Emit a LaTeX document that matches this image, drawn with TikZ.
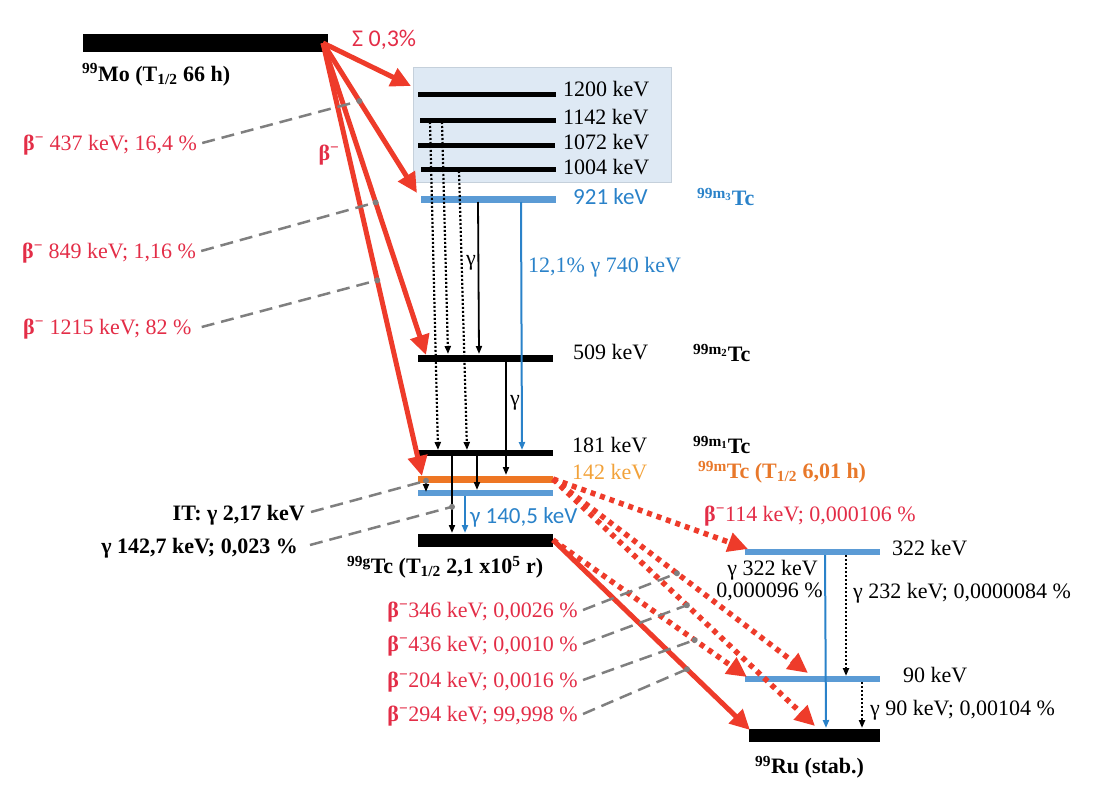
\documentclass[tikz,border=0pt]{standalone}
\usepackage{fontspec}
\setmainfont{Liberation Serif}
\newfontfamily\carl{Carlito}
\usetikzlibrary{arrows.meta}
\definecolor{redA}{HTML}{EE3B2A}
\definecolor{redT}{HTML}{E32D47}
\definecolor{blueL}{HTML}{5B9BD5}
\definecolor{blueT}{HTML}{2A82C9}
\definecolor{oraL}{HTML}{EE7623}
\definecolor{oraT}{HTML}{F2A23A}
\definecolor{oraB}{HTML}{E8782A}
\definecolor{grayc}{HTML}{7F7F7F}
\definecolor{boxF}{HTML}{DEE9F4}
\definecolor{boxD}{HTML}{C5D0DB}
\newcommand{\betam}{\textbf{β}\textsuperscript{\textbf{−}}}
\tikzset{
  lab/.style={inner sep=0pt, anchor=west},
  labr/.style={inner sep=0pt, anchor=east},
  lvk/.style={line width=5pt, black},
  redarr/.style={draw=redA, line width=5pt, -{Triangle[length=20pt,width=19pt]}},
  reddot/.style={draw=redA, line width=5.5pt, dash pattern=on 5pt off 5pt, -{Triangle[length=20pt,width=19pt]}},
  karr/.style={draw=black, line width=1.8pt, -{Triangle[length=8pt,width=6pt]}},
  kdot/.style={draw=black, line width=2.2pt, dash pattern=on 2pt off 2pt, -{Triangle[length=8pt,width=6pt]}},
  barr/.style={draw=blueT, line width=2pt, -{Triangle[length=8pt,width=6pt]}},
  lead/.style={draw=grayc, line width=2.5pt, dash pattern=on 13pt off 7pt},
  dotm/.style={circle, fill=grayc, inner sep=0pt, minimum size=6pt},
}
\begin{document}
\begin{tikzpicture}[x=1pt,y=-1pt, font=\fontsize{22}{26}\selectfont]
\useasboundingbox (0,0) rectangle (1107,800);

% box of high levels
\draw[fill=boxF, draw=boxD, line width=1pt] (413,67) rectangle (671,182);

% ---- level coordinates ----
\coordinate (moL) at (83,43);   \coordinate (moR) at (328,43);
\coordinate (a1L) at (418,94);  \coordinate (a1R) at (556,94);
\coordinate (a2L) at (420,120); \coordinate (a2R) at (556,120);
\coordinate (a3L) at (418,145); \coordinate (a3R) at (555,145);
\coordinate (a4L) at (421,169); \coordinate (a4R) at (556,169);
\coordinate (m3L) at (421,199); \coordinate (m3R) at (556,199);
\coordinate (m2L) at (418,358); \coordinate (m2R) at (553,358);
\coordinate (m1L) at (418,453); \coordinate (m1R) at (553,453);
\coordinate (mL) at (418,479);  \coordinate (mR) at (553,479);
\coordinate (bL) at (418,493);  \coordinate (bR) at (553,493);
\coordinate (gL) at (418,540);  \coordinate (gR) at (553,540);
\coordinate (r3L) at (745,552); \coordinate (r3R) at (880,552);
\coordinate (r9L) at (745,679); \coordinate (r9R) at (880,679);
\coordinate (ruL) at (749,735); \coordinate (ruR) at (880,735);

% ---- levels ----
\draw[line width=18pt] (moL) -- (moR);
\draw[lvk] (a1L) -- (a1R);
\draw[lvk] (a2L) -- (a2R);
\draw[lvk] (a3L) -- (a3R);
\draw[lvk] (a4L) -- (a4R);
\draw[line width=7pt, blueL] (m3L) -- (m3R);
\draw[line width=7pt] (m2L) -- (m2R);
\draw[line width=6pt] (m1L) -- (m1R);
\draw[line width=7pt, oraL] (mL) -- (mR);
\draw[line width=6pt, blueL] (bL) -- (bR);
\draw[line width=13pt] (gL) -- (gR);
\draw[line width=6pt, blueL] (r3L) -- (r3R);
\draw[line width=6pt, blueL] (r9L) -- (r9R);
\draw[line width=13pt] (ruL) -- (ruR);

% ---- gamma transition coordinates ----
\coordinate (dAs) at (430,122); \coordinate (dAe) at (438,450);
\coordinate (dBs) at (442,122); \coordinate (dBe) at (448,354);
\coordinate (dCs) at (459,171); \coordinate (dCe) at (467,450);
\coordinate (g1s) at (478,202); \coordinate (g1e) at (479,354);
\coordinate (b7s) at (521,202); \coordinate (b7e) at (522,450);
\coordinate (g2s) at (506,361); \coordinate (g2e) at (506,475);
\coordinate (k1s) at (452,456); \coordinate (k1e) at (452,533);
\coordinate (k2s) at (477,456); \coordinate (k2e) at (477,490);
\coordinate (its) at (426,478); \coordinate (ite) at (426,492);
\coordinate (b1s) at (465,496); \coordinate (b1e) at (465,533);
\coordinate (c3s) at (825,555); \coordinate (c3e) at (826,728);
\coordinate (c2s) at (846,555); \coordinate (c2e) at (846,676);
\coordinate (c9s) at (862,682); \coordinate (c9e) at (862,728);

\draw[kdot] (dAs) -- (dAe);
\draw[kdot] (dBs) -- (dBe);
\draw[kdot] (dCs) -- (dCe);
\draw[karr] (g1s) -- (g1e);
\draw[barr] (b7s) -- (b7e);
\draw[karr] (g2s) -- (g2e);
\draw[karr] (k1s) -- coordinate[pos=0.66] (pk1) (k1e);
\draw[karr] (k2s) -- (k2e);
\draw[karr] (its) -- coordinate[pos=0.2] (pit) (ite);
\draw[barr] (b1s) -- (b1e);
\draw[barr] (c3s) -- (c3e);
\draw[kdot] (c2s) -- (c2e);
\draw[kdot] (c9s) -- (c9e);

% ---- beta decays of Mo ----
\coordinate (apex) at (323,43);
\coordinate (tBox) at (411,86);
\coordinate (t921) at (417,193);
\coordinate (t509) at (426,355);
\coordinate (t142) at (422,476);
\draw[redarr] (apex) -- (tBox);
\draw[redarr] (apex) -- coordinate[pos=0.387] (p437) (t921);
\draw[redarr] (apex) -- coordinate[pos=0.511] (p849) (t509);
\draw[redarr] (apex) -- coordinate[pos=0.548] (p1215) (t142);

% ---- beta decays of Tc ----
\coordinate (mEnd) at (553,479);
\coordinate (gEnd) at (553,540);
\coordinate (u322) at (748,549);
\coordinate (u90a) at (808,673);
\coordinate (uRua) at (815,726);
\coordinate (u90b) at (747,677);
\coordinate (uRub) at (750,730);
\draw[reddot] (mEnd) -- (u322);
\draw[reddot] (mEnd) -- coordinate[pos=0.486] (p346) (u90a);
\draw[reddot] (mEnd) -- coordinate[pos=0.511] (p436) (uRua);
\draw[reddot] (gEnd) -- coordinate[pos=0.73] (p204) (u90b);
\draw[redarr] (gEnd) -- coordinate[pos=0.68] (p294) (uRub);

% ---- texts ----
\node[lab, text=redT] (sig) at (352,40) {\carl\fontsize{24}{28}\selectfont Σ 0,3\%};
\node[lab] (mo) at (82,75) {\textbf{\textsuperscript{99}Mo (T\textsubscript{1/2} 66 h)}};
\node[text=redT, inner sep=0pt] (bmain) at (329,155) {\betam};
\node[lab, text=redT] (l437) at (23,145) {\betam{} 437 keV; 16,4 \%};
\node[lab, text=redT] (l849) at (22,253) {\betam{} 849 keV; 1,16 \%};
\node[lab, text=redT] (l1215) at (23,329) {\betam{} 1215 keV; 82 \%};

\node[lab] (e1200) at (563,89) {1200 keV};
\node[lab] (e1142) at (563,117) {1142 keV};
\node[lab] (e1072) at (563,142) {1072 keV};
\node[lab] (e1004) at (563,167) {1004 keV};
\node[lab, text=blueT] (e921) at (573,197) {\carl\fontsize{23}{27}\selectfont 921 keV};
\node[lab, text=blueT] (n921) at (697,197) {\textbf{\textsuperscript{99m\textsubscript{3}}Tc}};
\node[lab, text=blueT] (t740) at (528,267) {12,1\% γ 740 keV};
\node[inner sep=0pt] (gam1) at (471,263) {γ};
\node[inner sep=0pt] (gam2) at (515,403) {γ};
\node[lab] (e509) at (573,352) {509 keV};
\node[lab] (n509) at (693,353) {\textbf{\textsuperscript{99m\textsubscript{2}}Tc}};
\node[lab] (e181) at (572,445) {181 keV};
\node[lab] (n181) at (693,445) {\textbf{\textsuperscript{99m\textsubscript{1}}Tc}};
\node[lab, text=oraT] (e142) at (572,472) {142 keV};
\node[lab, text=oraB] (n142) at (698,472) {\textbf{\textsuperscript{99m}Tc (T\textsubscript{1/2} 6,01 h)}};
\node[lab, text=blueT] (g1405) at (470,517) {\carl\fontsize{23}{27}\selectfont γ 140,5 keV};
\node[labr] (itl) at (305,515) {\textbf{IT: γ 2,17 keV}};
\node[labr] (g1427) at (298,548) {\textbf{γ 142,7 keV; 0,023 \%}};
\node[lab] (ngs) at (347,567) {\textbf{\textsuperscript{99g}Tc (T\textsubscript{1/2} 2,1 x10\textsuperscript{5} r)}};

\node[lab, text=redT] (l114) at (704,516) {\betam114 keV; 0,000106 \%};
\node[lab] (e322) at (892,548) {322 keV};
\node[labr] (g322a) at (818,570) {γ 322 keV};
\node[labr] (g322b) at (823,592) {0,000096 \%};
\node[lab] (g232) at (853,593) {γ 232 keV; 0,0000084 \%};
\node[lab] (e90) at (903,675) {90 keV};
\node[lab] (g90) at (870,710) {γ 90 keV; 0,00104 \%};
\node[lab] (nru) at (755,767) {\textbf{\textsuperscript{99}Ru (stab.)}};

\node[labr, text=redT] (l346) at (578,612) {\betam346 keV; 0,0026 \%};
\node[labr, text=redT] (l436) at (578,646) {\betam436 keV; 0,0010 \%};
\node[labr, text=redT] (l204) at (578,682) {\betam204 keV; 0,0016 \%};
\node[labr, text=redT] (l294) at (578,716) {\betam294 keV; 99,998 \%};

% ---- leaders ----
\draw[lead] ([xshift=5pt,yshift=2pt]l437.east) -- (p437);
\draw[lead] ([xshift=5pt,yshift=2pt]l849.east) -- (p849);
\draw[lead] ([xshift=10pt,yshift=2pt]l1215.east) -- (p1215);
\draw[lead] ([xshift=6pt,yshift=3pt]itl.east) -- (pit);
\draw[lead] ([xshift=12pt,yshift=3pt]g1427.east) -- (pk1);
\draw[lead] ([xshift=5pt,yshift=2pt]l346.east) -- (p346);
\draw[lead] ([xshift=5pt,yshift=2pt]l436.east) -- (p436);
\draw[lead] ([xshift=5pt,yshift=2pt]l204.east) -- (p204);
\draw[lead] ([xshift=5pt,yshift=2pt]l294.east) -- (p294);
\foreach \p in {p437,p849,p1215,pit,pk1,p346,p436,p204,p294}
  \node[dotm] at (\p) {};
\end{tikzpicture}
\end{document}
